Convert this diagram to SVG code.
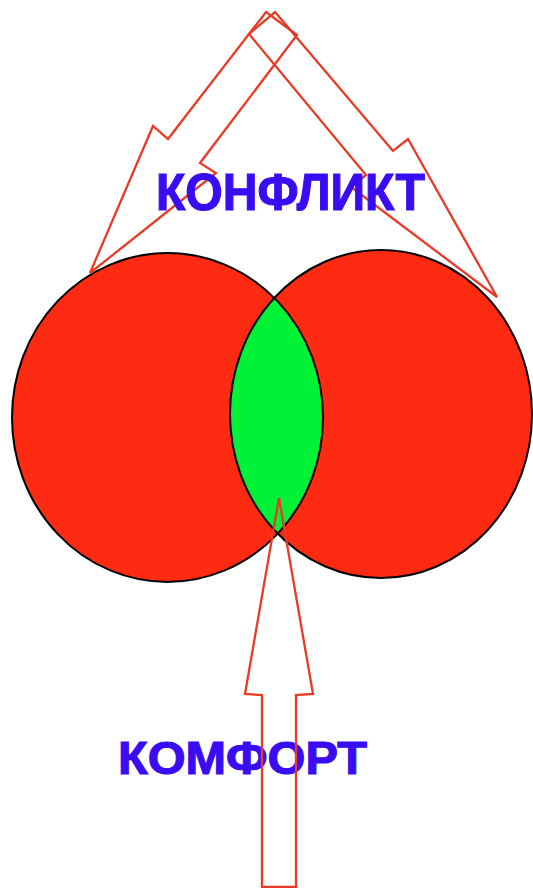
<svg xmlns="http://www.w3.org/2000/svg" width="533" height="888" viewBox="0 0 533 888">
<style>
.circ{fill:#FF2A12;stroke:none}
.edge{fill:none;stroke:#000;stroke-width:2}
.arrow{fill:none;stroke:#E83A26;stroke-width:2.3;stroke-linejoin:miter}
.lbl{font-family:"Liberation Sans",Arial,sans-serif;font-weight:bold;fill:#3A0CF2;stroke:#3A0CF2;stroke-width:1.2}
</style>
<defs>
<clipPath id="clipLeft"><ellipse cx="167.5" cy="417.5" rx="155.5" ry="164.5"/></clipPath>
</defs>
<rect width="533" height="888" fill="#fff"/>
<g id="circle-left"><ellipse class="circ" cx="167.5" cy="417.5" rx="155.5" ry="164.5"/></g>
<g id="circle-right"><ellipse class="circ" cx="381" cy="414" rx="151" ry="164"/></g>
<g id="overlap"><ellipse cx="381" cy="414" rx="151" ry="164" fill="#00F236" clip-path="url(#clipLeft)"/></g>
<g id="outlines">
<ellipse class="edge" cx="167.5" cy="417.5" rx="155.5" ry="164.5"/>
<ellipse class="edge" cx="381" cy="414" rx="151" ry="164"/>
</g>
<g id="connectors">
<polygon id="arrow-left" class="arrow" points="266,12 297,35 200,163 216,173 90,273 153,126 168,139"/>
<polygon id="arrow-right" class="arrow" points="275,12 393,151 408,139 497,297 351,187 366,175 249,34"/>
</g>
<g id="label-conflict"><text class="lbl" x="156" y="210" font-size="51" textLength="269" lengthAdjust="spacingAndGlyphs">КОНФЛИКТ</text></g>
<g id="label-comfort"><text class="lbl" x="118" y="774" font-size="47" textLength="249" lengthAdjust="spacingAndGlyphs">КОМФОРТ</text></g>
<g id="connector-bottom">
<polygon id="arrow-bottom" class="arrow" points="279,498 313,694 296,695 296,887 262,887 262,695 245,694"/>
</g>
</svg>
